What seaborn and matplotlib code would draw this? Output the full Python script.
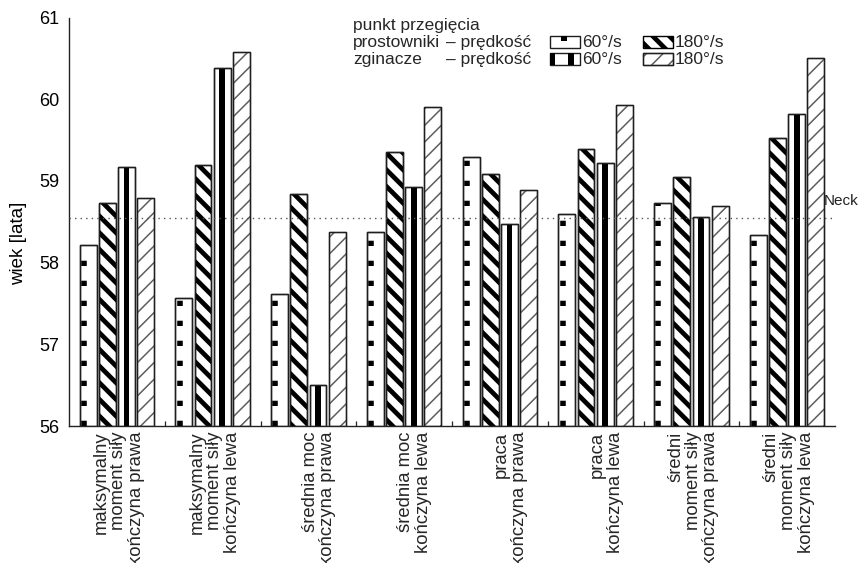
import matplotlib
matplotlib.use("Agg")
import matplotlib.pyplot as plt
from matplotlib.patches import Rectangle
from matplotlib.transforms import ScaledTranslation
import pandas as pd
import seaborn as sns

# ---- data ---------------------------------------------------------------
groups = [
    "maksymalny\nmoment siły\nkończyna prawa",
    "maksymalny\nmoment siły\nkończyna lewa",
    "średnia moc\nkończyna prawa",
    "średnia moc\nkończyna lewa",
    "praca\nkończyna prawa",
    "praca\nkończyna lewa",
    "średni\nmoment siły\nkończyna prawa",
    "średni\nmoment siły\nkończyna lewa",
]
series = ["prostowniki 60°/s", "prostowniki 180°/s", "zginacze 60°/s", "zginacze 180°/s"]
prost_60 = [58.22, 57.57, 57.62, 58.38, 59.29, 58.60, 58.73, 58.34]
prost_180 = [58.73, 59.20, 58.84, 59.35, 59.09, 59.39, 59.05, 59.52]
zgin_60 = [59.17, 60.38, 56.50, 58.92, 58.47, 59.22, 58.56, 59.82]
zgin_180 = [58.79, 60.58, 58.37, 59.90, 58.89, 59.93, 58.69, 60.50]
neck = 58.55
yticks = [56, 57, 58, 59, 60, 61]
ylim = (56, 61)

W, H, DPI = 861, 563, 100

sns.set_theme(style="white")
plt.rcParams["font.family"] = ["Liberation Sans", "DejaVu Sans"]
plt.rcParams["hatch.linewidth"] = 1.0

df = pd.DataFrame({
    "grupa": groups * 4,
    "seria": [s for s in series for _ in groups],
    "wiek": prost_60 + prost_180 + zgin_60 + zgin_180,
})

fig = plt.figure(figsize=(W / DPI, H / DPI), dpi=DPI)
fig.subplots_adjust(left=69 / W, right=835 / W, bottom=1 - 426 / H, top=1 - 17.5 / H)
ax = fig.add_subplot(111)

sns.barplot(data=df, x="grupa", y="wiek", hue="seria", order=groups,
            hue_order=series, palette=["white"] * 4, saturation=1,
            width=0.8, gap=0.12, edgecolor="#222222", linewidth=1.0,
            legend=False, ax=ax)

ax.set_ylim(*ylim)
ax.set_xlim(-0.5, len(groups) - 0.5)


def hatch_width(patch, lw):
    try:
        patch.set_hatch_linewidth(lw)
    except AttributeError:
        patch._hatch_linewidth = lw


# ---- fill patterns for each series ---------------------------------------
y0 = ax.get_ylim()[0]
c_p60, c_p180, c_z60, c_z180 = ax.containers[:4]

for bar in c_p60:
    x, w, h = bar.get_x(), bar.get_width(), bar.get_height()
    ax.plot([x + 0.24 * w, x + 0.24 * w], [y0, h], color="black",
            lw=4.0, ls=(0, (0.95, 2.65)), solid_capstyle="butt",
            dash_capstyle="butt", zorder=3)

for bar in c_p180:
    bar.set_hatch("\\\\")
    bar.set_edgecolor("black")
    hatch_width(bar, 3.4)

for bar in c_z60:
    x, w, h = bar.get_x(), bar.get_width(), bar.get_height()
    ax.add_patch(Rectangle((x + 0.33 * w, y0), 0.34 * w, h - y0,
                           facecolor="black", edgecolor="none", zorder=3))

for bar in c_z180:
    bar.set_hatch("//")
    bar.set_edgecolor("#5e5e5e")
    hatch_width(bar, 1.1)

# crisp outlines on top of the patterns
for cont in (c_p60, c_p180, c_z60, c_z180):
    for bar in cont:
        ax.add_patch(Rectangle((bar.get_x(), y0), bar.get_width(),
                               bar.get_height() - y0, fill=False,
                               edgecolor="#1e1e1e", linewidth=1.0, zorder=4))

# ---- reference line --------------------------------------------------------
ax.axhline(neck, color="#555555", lw=1.0, ls=(0, (1, 3)), zorder=5)
ax.annotate("Neck", xy=(0.985, neck), xycoords=("axes fraction", "data"),
            xytext=(0, 7), textcoords="offset points", fontsize=11,
            color="#222222", ha="left", va="bottom", annotation_clip=False)

# ---- axes styling ------------------------------------------------------------
for side in ("top", "right"):
    ax.spines[side].set_visible(False)
for side in ("left", "bottom"):
    ax.spines[side].set_color("#222222")
    ax.spines[side].set_linewidth(1.0)

ax.set_yticks(yticks)
ax.set_yticklabels([str(t) for t in yticks])
ax.tick_params(axis="y", direction="in", length=3.5, width=0.9,
               labelsize=13, pad=7, colors="#222222", labelcolor="black")
ax.set_xticks(range(len(groups)))
ax.set_xticks([i + 0.5 for i in range(len(groups) - 1)], minor=True)
ax.tick_params(axis="x", which="major", length=0, pad=4, labelsize=13.3)
ax.tick_params(axis="x", which="minor", direction="in", length=3.5,
               width=0.9, color="#222222", bottom=True)
ax.set_xticklabels(groups, rotation=90, ha="right", va="top",
                   multialignment="right", linespacing=1.05)
shift = ScaledTranslation(28 / DPI, 0, fig.dpi_scale_trans)
for lab in ax.get_xticklabels():
    lab.set_transform(lab.get_transform() + shift)

ax.set_xlabel("")
ax.set_ylabel("wiek [lata]", fontsize=13.5, color="black")
ax.yaxis.set_label_coords((27 - 69) / 766, (426 - 243) / 408.5)

# ---- legend block --------------------------------------------------------------
def fx(px):
    return px / W


def fy(py):
    return 1 - py / H


fs_leg = 12.5
fig.text(fx(353), fy(30), "punkt przegięcia", fontsize=fs_leg, va="baseline")
fig.text(fx(353), fy(47), "prostowniki", fontsize=fs_leg, va="baseline")
fig.text(fx(446), fy(47), "– prędkość", fontsize=fs_leg, va="baseline")
fig.text(fx(353), fy(64), "zginacze", fontsize=fs_leg, va="baseline")
fig.text(fx(446), fy(64), "– prędkość", fontsize=fs_leg, va="baseline")

box_w, box_h = 30, 12
rows = {"p": 36, "z": 53}
cols = {"60": 550, "180": 643}


def box(x_px, y_px, **kw):
    r = Rectangle((fx(x_px), fy(y_px + box_h)), box_w / W, box_h / H,
                  transform=fig.transFigure, **kw)
    fig.add_artist(r)
    return r


# prostowniki 60°/s
box(cols["60"], rows["p"], facecolor="white", edgecolor="#1e1e1e", lw=1.0)
fig.add_artist(Rectangle((fx(cols["60"] + 11), fy(rows["p"] + 5)), 6 / W, 5 / H,
                         transform=fig.transFigure, facecolor="black",
                         edgecolor="none"))
# prostowniki 180°/s
r = box(cols["180"], rows["p"], facecolor="white", edgecolor="black",
        hatch="\\\\", lw=1.0)
hatch_width(r, 3.4)
# zginacze 60°/s
box(cols["60"], rows["z"], facecolor="white", edgecolor="#1e1e1e", lw=1.0)
fig.add_artist(Rectangle((fx(cols["60"]), fy(rows["z"] + box_h)), 5 / W, box_h / H,
                         transform=fig.transFigure, facecolor="black",
                         edgecolor="none"))
fig.add_artist(Rectangle((fx(cols["60"] + 18), fy(rows["z"] + box_h)), 6 / W,
                         box_h / H, transform=fig.transFigure,
                         facecolor="black", edgecolor="none"))
# zginacze 180°/s
r = box(cols["180"], rows["z"], facecolor="white", edgecolor="#5e5e5e",
        hatch="//", lw=1.0)
hatch_width(r, 1.1)
box(cols["180"], rows["z"], fill=False, edgecolor="#1e1e1e", lw=1.0)

for y in (47, 64):
    fig.text(fx(cols["60"] + box_w + 2), fy(y), "60°/s", fontsize=fs_leg,
             va="baseline")
    fig.text(fx(cols["180"] + box_w + 2), fy(y), "180°/s", fontsize=fs_leg,
             va="baseline")

fig.savefig("out.png", dpi=DPI)
